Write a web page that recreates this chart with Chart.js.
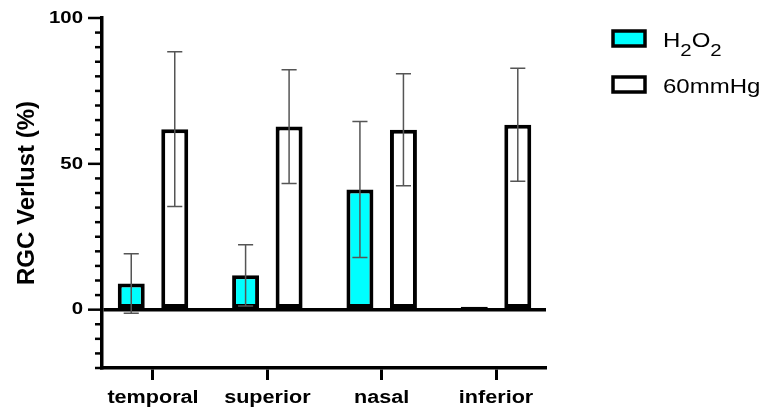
<!DOCTYPE html>
<html>
<head>
<meta charset="utf-8">
<script src="https://cdn.jsdelivr.net/npm/chart.js@4.4.1/dist/chart.umd.min.js"></script>
<style>
  html, body { margin: 0; padding: 0; background: #fff; overflow: hidden; }
  #wrap { width: 765px; height: 414px; }
</style>
</head>
<body>
<div id="wrap"><canvas id="myChart"></canvas></div>
<script>
// values (mean and SD, RGC loss in %)
var categories = ["temporal", "superior", "nasal", "inferior"];
var seriesNames = ["H₂O₂", "60mmHg"];
var h2o2Mean = [9, 11.8, 41.2, 1];
var h2o2Sd = [10.2, 10.5, 23.3, 0];
var mmHgMean = [61.9, 62.8, 61.7, 63.4];
var mmHgSd = [26.5, 19.5, 19.2, 19.4];
var yTickLabels = [0, 50, 100];
var barColors = ["#00FFFF", "#FFFFFF"];

Chart.defaults.font.family = "'Liberation Sans', Arial, sans-serif";
Chart.defaults.color = "#000";

// the figure uses horizontally widened lettering for all upright text
var WIDE = 1.2;
const wideText = {
    id: "wideText",
    beforeDraw(chart) {
        const ctx = chart.ctx;
        if (ctx.fillTextPlain) return;
        ctx.fillTextPlain = ctx.fillText;
        ctx.fillText = function (text, x, y) {
            const t = this.getTransform();
            if (Math.abs(t.b) > 0.001) return this.fillTextPlain(text, x, y);
            this.save();
            this.translate(x, y);
            this.scale(WIDE, 1);
            this.fillTextPlain(text, 0, 0);
            this.restore();
        };
    },
};

// minor and major tick marks on the y axis
const yTicks = {
    id: "yTicks",
    afterDraw(chart) {
        const ctx = chart.ctx;
        const y = chart.scales.y;
        const left = chart.chartArea.left;
        ctx.save();
        ctx.strokeStyle = "#000";
        ctx.lineWidth = 2.5;
        y.ticks.forEach((t) => {
            const py = y.getPixelForValue(t.value);
            const len = yTickLabels.includes(t.value) ? 14 : 7;
            ctx.beginPath();
            ctx.moveTo(left - len, py);
            ctx.lineTo(left, py);
            ctx.stroke();
        });
        ctx.restore();
    },
};

// mean +/- SD whiskers
const errorBars = {
    id: "errorBars",
    afterDatasetsDraw(chart) {
        const ctx = chart.ctx;
        const y = chart.scales.y;
        const sds = [h2o2Sd, mmHgSd];
        ctx.save();
        ctx.strokeStyle = "#555";
        ctx.lineWidth = 1.5;
        chart.data.datasets.forEach((ds, di) => {
            const meta = chart.getDatasetMeta(di);
            meta.data.forEach((bar, i) => {
                const v = ds.data[i].y;
                const sd = sds[di][i];
                if (!sd) return;
                const top = y.getPixelForValue(v + sd);
                const bot = y.getPixelForValue(v - sd);
                const cap = bar.width * 0.28;
                ctx.beginPath();
                ctx.moveTo(bar.x, top);
                ctx.lineTo(bar.x, bot);
                ctx.moveTo(bar.x - cap, top);
                ctx.lineTo(bar.x + cap, top);
                ctx.moveTo(bar.x - cap, bot);
                ctx.lineTo(bar.x + cap, bot);
                ctx.stroke();
            });
        });
        ctx.restore();
    },
};

// legend at the upper right, with subscript digits
const sideLegend = {
    id: "sideLegend",
    afterDraw(chart) {
        const ctx = chart.ctx;
        const x0 = chart.chartArea.right + 67;
        ctx.save();
        chart.data.datasets.forEach((ds, i) => {
            const top = 31 + i * 46;
            ctx.fillStyle = ds.backgroundColor;
            ctx.fillRect(x0, top, 32, 15);
            ctx.strokeStyle = "#000";
            ctx.lineWidth = 3.5;
            ctx.strokeRect(x0, top, 32, 15);
            ctx.fillStyle = "#000";
            ctx.textAlign = "left";
            ctx.textBaseline = "alphabetic";
            let x = x0 + 50;
            const base = top + 15.5;
            for (const ch of ds.label) {
                const code = ch.charCodeAt(0);
                if (code >= 0x2080 && code <= 0x2089) {
                    const d = String(code - 0x2080);
                    ctx.font = "17px 'Liberation Sans', Arial, sans-serif";
                    ctx.fillText(d, x, base + 9);
                    x += ctx.measureText(d).width * WIDE;
                } else {
                    ctx.font = "20px 'Liberation Sans', Arial, sans-serif";
                    ctx.fillText(ch, x, base);
                    x += ctx.measureText(ch).width * WIDE;
                }
            }
        });
        ctx.restore();
    },
};

const ctx = document.getElementById("myChart");

new Chart(ctx, {
    type: "bar",
    data: {
        datasets: [
            {
                label: seriesNames[0],
                data: categories.map((c, i) => ({ x: i, y: h2o2Mean[i] })),
                backgroundColor: barColors[0],
            },
            {
                label: seriesNames[1],
                data: categories.map((c, i) => ({ x: i, y: mmHgMean[i] })),
                backgroundColor: barColors[1],
            },
        ],
    },
    options: {
        responsive: true,
        maintainAspectRatio: false,
        animation: false,
        devicePixelRatio: 1,
        layout: { padding: { left: 0, right: 219, top: 18, bottom: 0 } },
        datasets: {
            bar: {
                borderColor: "#000",
                borderWidth: 4,
                borderSkipped: false,
                categoryPercentage: 0.761,
                barPercentage: 0.62,
            },
        },
        plugins: {
            legend: { display: false },
            tooltip: { enabled: false },
        },
        scales: {
            x: {
                type: "linear",
                min: -0.446,
                max: 3.437,
                offset: false,
                afterFit: (s) => { s.height = 46; },
                afterBuildTicks: (s) => {
                    s.ticks = categories.map((c, i) => ({ value: i }));
                },
                border: { color: "#000", width: 3.5 },
                grid: {
                    offset: false,
                    drawOnChartArea: false,
                    tickLength: 12,
                    tickColor: "#000",
                    tickWidth: 3,
                },
                ticks: {
                    padding: 7,
                    font: { size: 18, weight: "bold" },
                    callback: (v) => categories[v],
                },
            },
            y: {
                min: -20,
                max: 100,
                afterFit: (s) => { s.width = 102; },
                border: { color: "#000", width: 3.5 },
                grid: {
                    color: (c) => (c.tick && c.tick.value === 0 ? "#000" : "transparent"),
                    lineWidth: 3.5,
                    tickColor: "transparent",
                    tickLength: 14,
                },
                ticks: {
                    stepSize: 5,
                    autoSkip: false,
                    padding: 5,
                    font: { size: 17, weight: "bold" },
                    callback: (v) => (yTickLabels.includes(v) ? String(v) : ""),
                },
                title: {
                    display: true,
                    text: "RGC Verlust (%)",
                    font: { size: 24, weight: "bold" },
                    padding: { top: 12.6, bottom: 0 },
                },
            },
        },
    },
    plugins: [wideText, yTicks, errorBars, sideLegend],
});
</script>
</body>
</html>
